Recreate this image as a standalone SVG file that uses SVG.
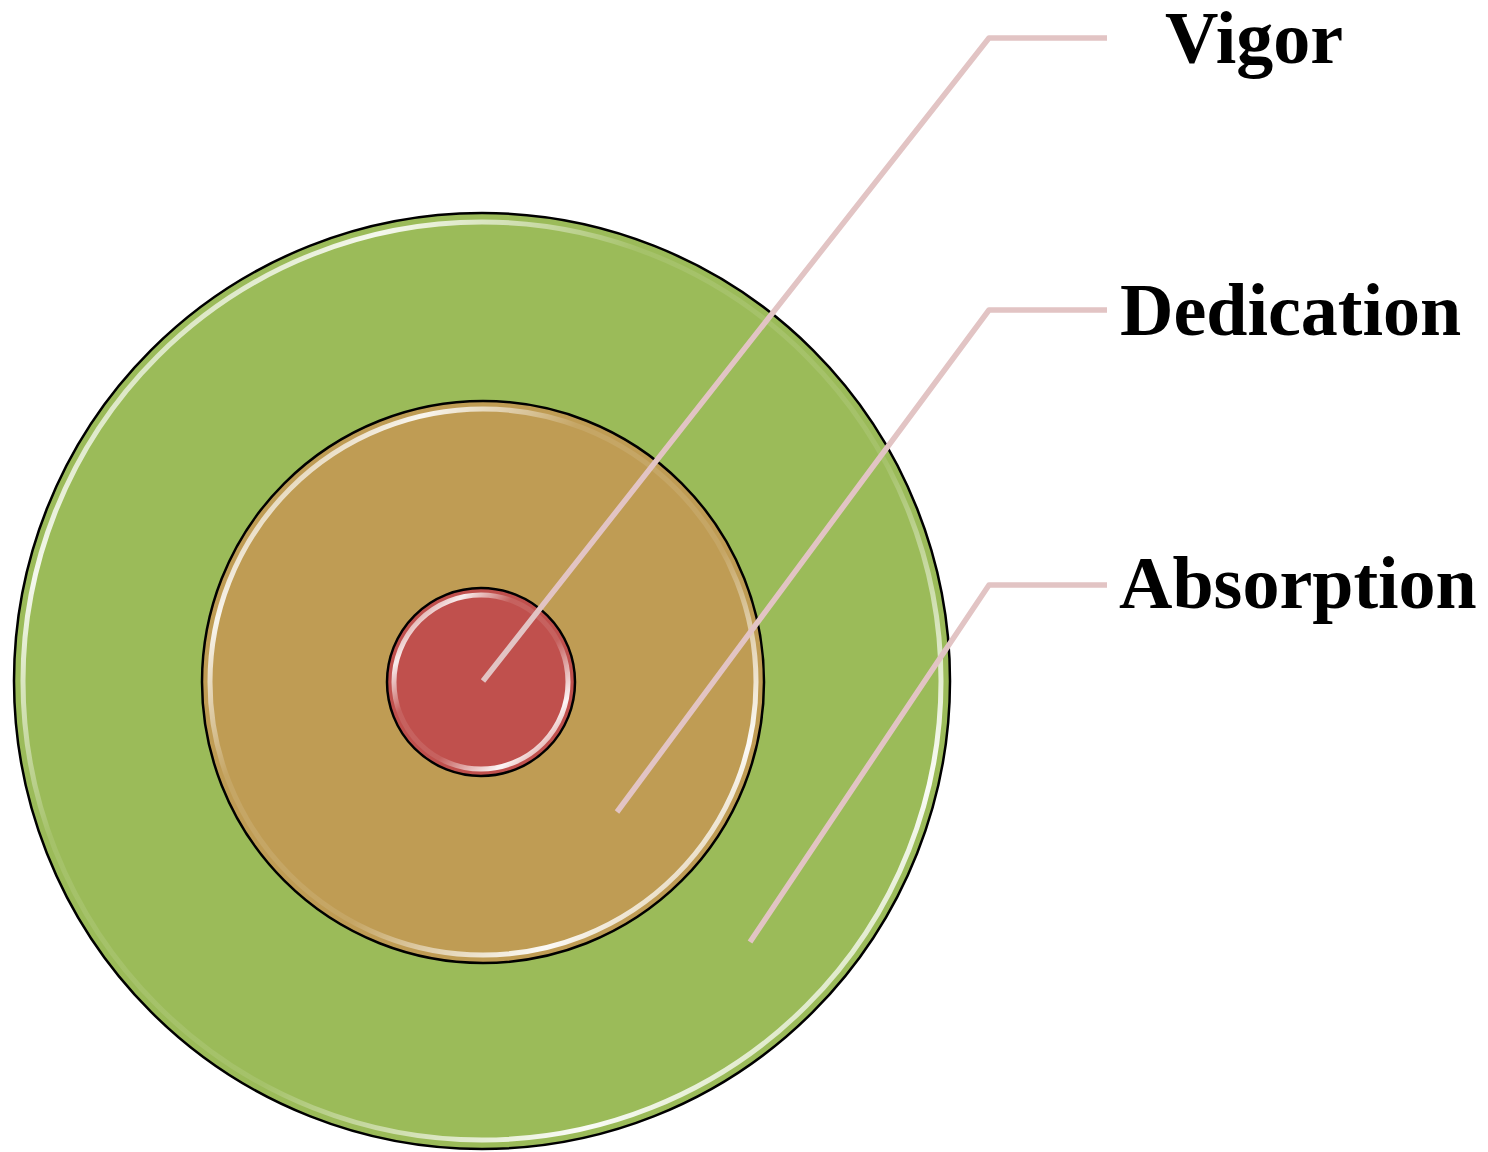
<svg xmlns="http://www.w3.org/2000/svg" width="1488" height="1152" viewBox="0 0 1488 1152">
<style>
.ring{stroke:#000;stroke-width:2.5}
.gloss{fill:none;stroke:url(#gl);stroke-width:5}
.lead{fill:none;stroke:#E2C4C4;stroke-width:5.5;stroke-linejoin:round}
.lbl{font-family:"Liberation Serif","Times New Roman",serif;font-weight:bold;font-size:74px;fill:#000}
</style>
<defs>
<linearGradient id="gl" x1="0" y1="0" x2="1" y2="1">
<stop offset="0" stop-color="#fff" stop-opacity="0"/>
<stop offset="0.2" stop-color="#fff" stop-opacity="0.9"/>
<stop offset="0.35" stop-color="#fff" stop-opacity="0.1"/>
<stop offset="0.6" stop-color="#fff" stop-opacity="0.1"/>
<stop offset="0.8" stop-color="#fff" stop-opacity="0.95"/>
<stop offset="1" stop-color="#fff" stop-opacity="0"/>
</linearGradient>
</defs>
<rect width="1488" height="1152" fill="#fff"/>
<g id="absorption-ring">
<circle class="ring" cx="482" cy="681" r="468" fill="#9BBB59"/>
<circle class="gloss" cx="482" cy="681" r="459"/>
</g>
<g id="dedication-ring">
<circle class="ring" cx="483" cy="682" r="281" fill="#BF9C54"/>
<circle class="gloss" cx="483" cy="682" r="273"/>
</g>
<g id="vigor-core">
<circle class="ring" cx="481" cy="682" r="94" fill="#C0504D"/>
<circle class="gloss" cx="481" cy="682" r="87"/>
</g>
<g id="connectors">
<polyline class="lead" points="483,681 989,38 1107,38"/>
<polyline class="lead" points="617,812 989,310 1107,310"/>
<polyline class="lead" points="750,942 989,585 1107,585"/>
</g>
<g id="labels">
<text class="lbl" x="1165" y="63">Vigor</text>
<text class="lbl" x="1120" y="335">Dedication</text>
<text class="lbl" x="1119" y="608">Absorption</text>
</g>
</svg>
